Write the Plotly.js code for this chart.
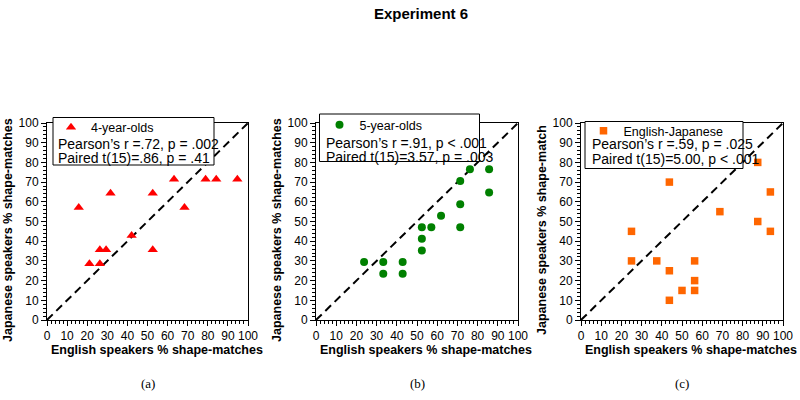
<!DOCTYPE html>
<html><head><meta charset="utf-8">
<script src="https://cdn.plot.ly/plotly-3.0.1.min.js"></script>
<style>html,body{margin:0;padding:0;background:#fff}#chart{width:800px;height:400px}</style>
</head><body><div id="chart"></div>
<script>
const titleText = 'Experiment 6';
const xTitle = 'English speakers % shape-matches';
const yTitles = ['Japanese speakers % shape-matches', 'Japanese speakers % shape-matches', 'Japanese speakers % shape-match'];
const panelLabels = ['(a)', '(b)', '(c)'];
const seriesNames = ['4-year-olds', '5-year-olds', 'English-Japanese'];
const statsPearson = ['Pearson\u2019s r =.72, p = .002', 'Pearson\u2019s r =.91, p < .001', 'Pearson\u2019s r =.59, p = .025'];
const statsPaired = ['Paired t(15)=.86, p = .41', 'Paired t(15)=3.57, p = .003', 'Paired t(15)=5.00, p < .001'];

// Panel (a): 4-year-olds
const a_x = [15.8, 21.1, 26.3, 26.3, 29.4, 31.6, 42.1, 52.6, 52.6, 63.2, 68.4, 78.9, 84.2, 94.7];
const a_y = [57.1, 28.6, 28.6, 35.7, 35.7, 64.3, 42.9, 64.3, 35.7, 71.4, 57.1, 71.4, 71.4, 71.4];
// Panel (b): 5-year-olds
const b_x = [23.8, 33.3, 33.3, 42.9, 42.9, 52.4, 52.4, 52.4, 57.1, 61.9, 71.4, 71.4, 71.4, 76.2, 85.7, 85.7];
const b_y = [29.4, 29.4, 23.5, 29.4, 23.5, 35.3, 41.2, 47.1, 47.1, 52.9, 47.1, 58.8, 70.6, 76.5, 76.5, 64.7];
// Panel (c): English-Japanese
const c_x = [25, 25, 37.5, 43.75, 43.75, 43.75, 50, 56.25, 56.25, 56.25, 68.75, 87.5, 87.5, 93.75, 93.75];
const c_y = [45, 30, 30, 70, 25, 10, 15, 30, 20, 15, 55, 80, 50, 65, 45];

const diagX = [0, 100];
const diagY = [0, 100];
const tickVals = [0, 10, 20, 30, 40, 50, 60, 70, 80, 90, 100];

const colors = ['#ff0000', '#008000', '#ff6600'];
const symbols = ['triangle-up', 'circle', 'square'];
const sizes = [9, 8, 7.5];

const xDomains = [[47/800, 248/800], [316/800, 518/800], [581/800, 783/800]];
const yDomain = [0.2, 0.6925];

const xs = [a_x, b_x, c_x];
const ys = [a_y, b_y, c_y];
const axSuffix = ['', '2', '3'];
const legendIds = ['legend', 'legend2', 'legend3'];

const FONT = 'Liberation Sans, Arial, sans-serif';
const STATFONT = 14;
const LEGFONT = 12.5;
const AXTITLEFONT = {family: FONT, size: 12.5, color: '#000'};

const traces = [];
for (let i = 0; i < 3; i++) {
  traces.push({
    x: diagX, y: diagY, mode: 'lines', type: 'scatter',
    xaxis: 'x' + axSuffix[i], yaxis: 'y' + axSuffix[i],
    line: {color: '#000', width: 2, dash: '8px,5px'},
    showlegend: false, hoverinfo: 'skip'
  });
  traces.push({
    x: xs[i], y: ys[i], mode: 'markers', type: 'scatter', name: seriesNames[i],
    xaxis: 'x' + axSuffix[i], yaxis: 'y' + axSuffix[i],
    legend: legendIds[i],
    marker: {color: colors[i], symbol: symbols[i], size: sizes[i]},
    cliponaxis: false
  });
}

function baseAxis() {
  return {
    range: [0, 100],
    tickvals: tickVals, ticks: 'outside', ticklen: 5, tickwidth: 1, tickcolor: '#000',
    minor: {dtick: 2, ticks: 'outside', ticklen: 3, tickcolor: '#000', tickwidth: 1},
    showline: true, linecolor: '#000', linewidth: 1, mirror: true,
    showgrid: false, zeroline: false, fixedrange: true,
    tickfont: {family: FONT, size: 12, color: '#000'}
  };
}

// Legend/box placement (paper px)
const boxes = [
  {l: 53, r: 214, t: 117.5, b: 165, mark: [71, 126.5], stat: 57.5, lines: [143.5, 157.5]},
  {l: 319.5, r: 479.5, t: 114, b: 161.5, mark: [339.5, 124], stat: 326, lines: [143.3, 156.7]},
  {l: 585, r: 743, t: 121.5, b: 168.5, mark: [603.5, 130], stat: 591.5, lines: [144.3, 158.5]}
];

const layout = {
  width: 800, height: 400,
  margin: {l: 0, r: 0, t: 0, b: 0},
  paper_bgcolor: '#fff', plot_bgcolor: 'rgba(0,0,0,0)',
  font: {family: FONT, color: '#000'},
  title: {text: '<b>' + titleText + '</b>', font: {family: FONT, size: 15, color: '#000'},
          x: 421/800, xanchor: 'center', y: 1 - 14/400, yanchor: 'middle', xref: 'paper', yref: 'paper'},
  shapes: [], annotations: []
};
for (let i = 0; i < 3; i++) {
  const xa = baseAxis(); xa.domain = xDomains[i]; xa.anchor = 'y' + axSuffix[i];
  const ya = baseAxis(); ya.domain = yDomain; ya.anchor = 'x' + axSuffix[i];
  layout['xaxis' + axSuffix[i]] = xa;
  layout['yaxis' + axSuffix[i]] = ya;
  const bx = boxes[i];
  layout.shapes.push({type: 'rect', xref: 'paper', yref: 'paper', layer: 'above',
    x0: bx.l/800, x1: bx.r/800, y0: 1 - bx.b/400, y1: 1 - bx.t/400,
    line: {color: '#000', width: 1}, fillcolor: '#fff'});
  layout[legendIds[i]] = {
    x: (bx.mark[0] - 20)/800, xanchor: 'left', y: 1 - (bx.mark[1] - 14)/400, yanchor: 'top',
    bgcolor: 'rgba(0,0,0,0)', borderwidth: 0, itemwidth: 30,
    font: {family: FONT, size: LEGFONT, color: '#000'}
  };
  layout.annotations.push({text: statsPearson[i], xref: 'paper', yref: 'paper', x: bx.stat/800, y: 1 - bx.lines[0]/400,
    xanchor: 'left', yanchor: 'middle', showarrow: false, borderpad: 0, borderwidth: 0,
    font: {family: FONT, size: STATFONT, color: '#000'}});
  layout.annotations.push({text: statsPaired[i], xref: 'paper', yref: 'paper', x: bx.stat/800, y: 1 - bx.lines[1]/400,
    xanchor: 'left', yanchor: 'middle', showarrow: false, borderpad: 0, borderwidth: 0,
    font: {family: FONT, size: STATFONT, color: '#000'}});
  // axis titles (slightly offset as in the reference)
  layout.annotations.push({text: '<b>' + xTitle + '</b>', xref: 'x' + axSuffix[i] + ' domain', yref: 'paper',
    x: 0.5, xshift: 9, y: 1 - 350/400, xanchor: 'center', yanchor: 'middle', showarrow: false, font: AXTITLEFONT});
  layout.annotations.push({text: '<b>' + yTitles[i] + '</b>', xref: 'x' + axSuffix[i] + ' domain', yref: 'y' + axSuffix[i] + ' domain',
    x: 0, xshift: -39.5, y: 0.5, yshift: -9, textangle: -90, xanchor: 'center', yanchor: 'middle', showarrow: false, font: AXTITLEFONT});
  layout.annotations.push({text: panelLabels[i], xref: 'paper', yref: 'paper', x: (xDomains[i][0] + xDomains[i][1])/2, y: 1 - 383/400,
    xanchor: 'center', yanchor: 'middle', showarrow: false, font: {family: 'Liberation Serif, Times New Roman, serif', size: 13, color: '#000'}});
}

Plotly.newPlot('chart', traces, layout, {staticPlot: true, displayModeBar: false});
</script>
</body></html>
